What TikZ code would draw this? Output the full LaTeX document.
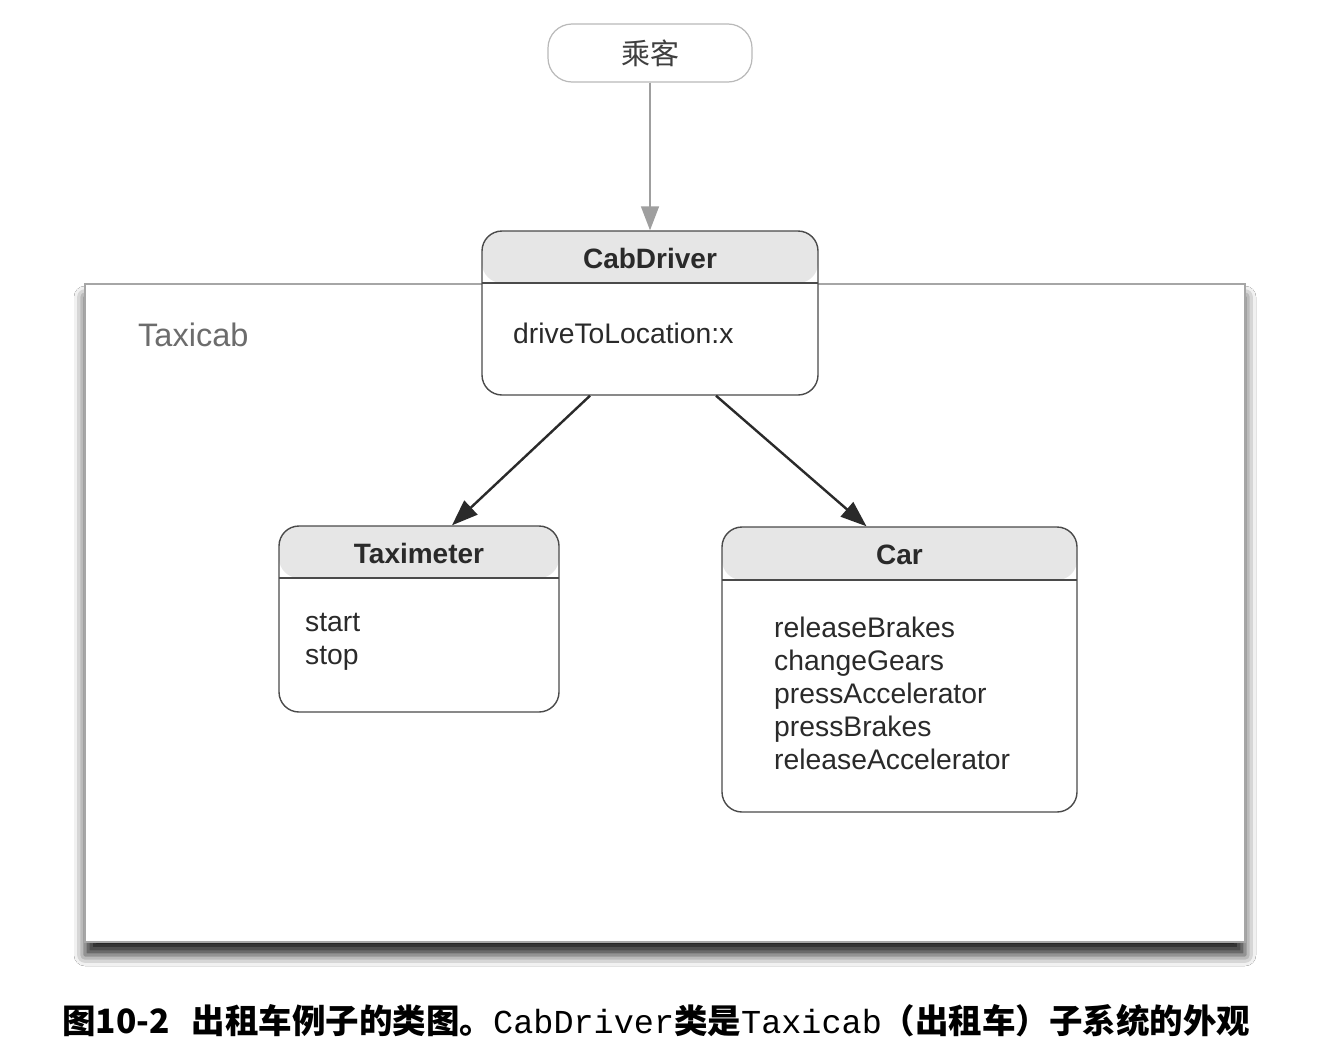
\documentclass[tikz,border=0pt]{standalone}
\usepackage{fontspec}
\setmainfont{Liberation Sans}
\newfontfamily\cjk{Noto Sans CJK SC}
\newfontfamily\capmono{Liberation Mono}
\usepackage{tikz}
\usetikzlibrary{arrows.meta,shadows.blur}

\definecolor{boxline}{HTML}{4A4A4A}
\definecolor{headfill}{HTML}{E6E6E6}
\definecolor{inktext}{HTML}{2A2A2A}

\tikzset{
  classbox/.style={draw=boxline, line width=1.4pt, rounded corners=20pt, fill=white,
    inner sep=0pt,
    path picture={
      \fill[headfill] (path picture bounding box.north west) rectangle
        ([yshift=-#1]path picture bounding box.north east);
      \draw[boxline, line width=1.4pt] ([yshift=-#1]path picture bounding box.north west) --
        ([yshift=-#1]path picture bounding box.north east);
    }},
  classname/.style={font=\fontsize{28}{33}\selectfont\bfseries, text=inktext, inner sep=0pt},
  operation/.style={font=\fontsize{28.3}{33}\selectfont, text=inktext, inner sep=0pt, anchor=base west},
  usage/.style={-{Triangle[length=26pt,width=19pt]}, line width=2.4pt, draw=inktext, fill=inktext}
}

\begin{document}
\begin{tikzpicture}[x=1pt, y=-1pt]
  \useasboundingbox[fill=white] (0,0) rectangle (1324,1052);

  % subsystem frame
  \node[draw=gray!70, line width=1.4pt, fill=white, inner sep=0pt,
        minimum width=1160pt, minimum height=658pt,
        blur shadow={shadow xshift=0pt, shadow yshift=-13pt, shadow blur radius=11pt, shadow opacity=85}]
        (taxicab) at (665,613) {};
  \node[font=\fontsize{32.5}{36}\selectfont, text=gray!85!black, anchor=base west, inner sep=0pt]
        (taxicablabel) at (138,346) {Taxicab};

  % client
  \node[draw=gray!55, line width=1.2pt, rounded corners=24pt, fill=white,
        minimum width=204pt, minimum height=58pt, inner sep=0pt] (passenger) at (650,53)
        {\cjk\fontsize{29}{34}\selectfont\color{inktext!90}乘客};

  % classes
  \node[classbox=52pt, minimum width=336pt, minimum height=164pt] (cab) at (650,313) {};
  \node[classname] (cabname) at (650,258) {CabDriver};
  \node[operation] (cabop) at (513,343) {driveToLocation:x};

  \node[classbox=52pt, minimum width=280pt, minimum height=186pt] (meter) at (419,619) {};
  \node[classname] (metername) at (419,553) {Taximeter};
  \node[operation] (meterstart) at (305,631) {start};
  \node[operation] (meterstop) at (305,664) {stop};

  \node[classbox=53pt, minimum width=355pt, minimum height=285pt] (car) at (899.5,669.5) {};
  \node[classname] (carname) at (899.5,555) {Car};
  \foreach \op [count=\i] in {releaseBrakes,changeGears,pressAccelerator,pressBrakes,releaseAccelerator}
    \node[operation] (carop\i) at (774,604+33*\i) {\op};

  % connectors
  \draw[-{Triangle[length=24pt,width=18pt]}, line width=1.6pt, draw=gray!75, fill=gray!75]
    (passenger.south) -- (cab.north);
  \draw[usage] ([xshift=-60pt]cab.south) -- ([xshift=33pt]meter.north);
  \draw[usage] ([xshift=66pt]cab.south) -- ([xshift=-33pt]car.north);

  % caption
  \node[anchor=base west, inner sep=0pt, text=black] (caption) at (62,1033)
    {\fontsize{33.5}{38}\selectfont{\cjk\bfseries 图10-2}\hspace{22pt}{\cjk\bfseries 出租车例子的类图。}{\capmono CabDriver}{\cjk\bfseries 类是}{\capmono Taxicab}{\cjk\bfseries （出租车）子系统的外观}};
\end{tikzpicture}
\end{document}
